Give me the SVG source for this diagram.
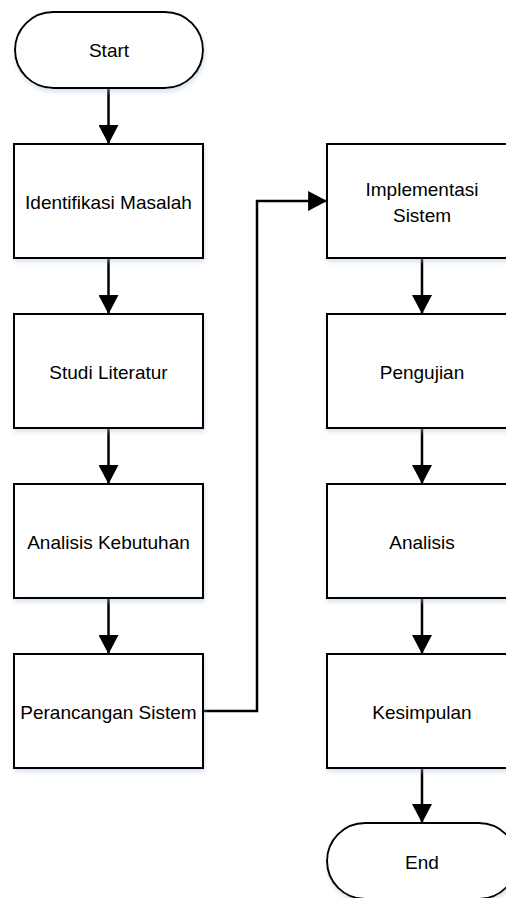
<svg xmlns="http://www.w3.org/2000/svg" width="506" height="898" viewBox="0 0 506 898">
<defs>
<style>
.shape{fill:#ffffff;stroke:#000000;stroke-width:2;filter:url(#sh)}
.lbl{font-family:"Liberation Sans",Arial,sans-serif;font-size:19px;fill:#000000;text-anchor:middle}
.conn{fill:none;stroke:#000000;stroke-width:2.5}
</style>
<filter id="sh" x="-10%" y="-10%" width="130%" height="140%">
<feDropShadow dx="1" dy="3" stdDeviation="2" flood-color="#a9bfdc" flood-opacity="0.45"/>
</filter>
<marker id="ah" markerUnits="userSpaceOnUse" markerWidth="20" markerHeight="20" viewBox="0 0 18 18" refX="17" refY="9" orient="auto">
<path d="M0,0 L17,9 L0,18 Z" fill="#000000"/>
</marker>
</defs>
<rect width="506" height="898" fill="#ffffff"/>
<g id="connectors">
<line class="conn" x1="108.5" y1="88" x2="108.5" y2="144" marker-end="url(#ah)"/>
<line class="conn" x1="108.5" y1="258" x2="108.5" y2="314" marker-end="url(#ah)"/>
<line class="conn" x1="108.5" y1="428" x2="108.5" y2="484" marker-end="url(#ah)"/>
<line class="conn" x1="108.5" y1="598" x2="108.5" y2="654" marker-end="url(#ah)"/>
<polyline class="conn" points="203,711 257,711 257,201 327,201" marker-end="url(#ah)"/>
<line class="conn" x1="422" y1="258" x2="422" y2="314" marker-end="url(#ah)"/>
<line class="conn" x1="422" y1="428" x2="422" y2="484" marker-end="url(#ah)"/>
<line class="conn" x1="422" y1="598" x2="422" y2="654" marker-end="url(#ah)"/>
<line class="conn" x1="422" y1="768" x2="422" y2="823" marker-end="url(#ah)"/>
</g>
<g id="start">
<rect class="shape" x="15" y="12" width="188" height="76" rx="38" ry="38"/>
<text class="lbl" x="109" y="57">Start</text>
</g>
<g id="identifikasi">
<rect class="shape" x="14" y="144" width="189" height="114"/>
<text class="lbl" x="108.5" y="209">Identifikasi Masalah</text>
</g>
<g id="studi">
<rect class="shape" x="14" y="314" width="189" height="114"/>
<text class="lbl" x="108.5" y="379">Studi Literatur</text>
</g>
<g id="analisis-kebutuhan">
<rect class="shape" x="14" y="484" width="189" height="114"/>
<text class="lbl" x="108.5" y="549">Analisis Kebutuhan</text>
</g>
<g id="perancangan">
<rect class="shape" x="14" y="654" width="189" height="114"/>
<text class="lbl" x="108.5" y="719">Perancangan Sistem</text>
</g>
<g id="implementasi">
<rect class="shape" x="327" y="144" width="190" height="114"/>
<text class="lbl" x="422" y="196">Implementasi</text>
<text class="lbl" x="422" y="222">Sistem</text>
</g>
<g id="pengujian">
<rect class="shape" x="327" y="314" width="190" height="114"/>
<text class="lbl" x="422" y="379">Pengujian</text>
</g>
<g id="analisis">
<rect class="shape" x="327" y="484" width="190" height="114"/>
<text class="lbl" x="422" y="549">Analisis</text>
</g>
<g id="kesimpulan">
<rect class="shape" x="327" y="654" width="190" height="114"/>
<text class="lbl" x="422" y="719">Kesimpulan</text>
</g>
<g id="end">
<rect class="shape" x="327" y="823" width="190" height="76" rx="38" ry="38"/>
<text class="lbl" x="422" y="869">End</text>
</g>
</svg>
